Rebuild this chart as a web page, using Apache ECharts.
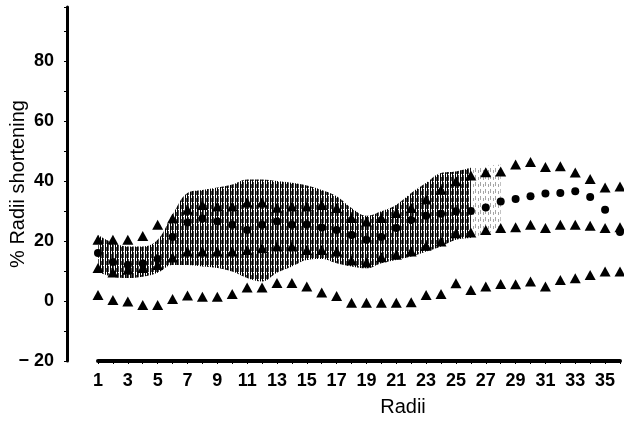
<!DOCTYPE html>
<html>
<head>
<meta charset="utf-8">
<script src="https://cdn.jsdelivr.net/npm/echarts@6/dist/echarts.min.js"></script>
<style>
  html, body { margin: 0; padding: 0; background: #fff; }
  #chart { width: 624px; height: 421px; }
</style>
</head>
<body>
<div id="chart"></div>
<script>
// Radius index along the x axis
const radii = Array.from({ length: 36 }, (_, i) => String(i + 1));
const yTicks = [-20, 0, 20, 40, 60, 80];

// Upper triangles
const upperTri = [20.4, 20.4, 20.4, 21.7, 25.4, 27.5, 30.4, 32, 31.5, 31.5, 32.8, 32.8, 31.1, 31.5, 31.5, 32,
  31, 27.7, 26.5, 27.7, 29.3, 31, 33.8, 37.1, 39.9, 41.8, 42.9, 43.2, 45.5, 46.3, 44.7, 44.9, 42.8, 40.7, 37.8, 38.2];
// Middle dots
const midDot = [16, 13, 12, 12.5, 14, 21.3, 26.2, 27.5, 26.5, 25.4, 23.7, 25.4, 26.5, 25.4, 25.5, 24.5,
  23.7, 22, 20.4, 21.3, 24.3, 27, 28.4, 29.1, 29.9, 30, 31.2, 33.2, 34, 34.9, 35.8, 36, 36.6, 34.7, 30.4, 23];
// Lower triangles
const lowerTri = [11, 9.5, 10.4, 11, 12, 14.5, 16.5, 16.5, 16.5, 16.5, 17, 17.6, 18.2, 18.2, 17, 17,
  16.5, 13.5, 12.8, 14.6, 15.4, 16.5, 18.4, 19.8, 22.6, 22.8, 23.7, 24.3, 24.6, 25.4, 24.3, 25.4, 25.4, 25.1, 24.3, 24.6];
// Bottom triangles
const bottomTri = [2, 0.3, -0.2, -1.3, -1.3, 0.7, 1.8, 1.4, 1.4, 2.3, 4.5, 4.5, 6, 6, 4.8, 2.8,
  1.7, -0.6, -0.6, -0.6, -0.6, -0.4, 2, 2.3, 5.9, 3.7, 4.8, 5.7, 5.6, 6.5, 4.8, 7, 7.6, 8.7, 9.8, 9.8];
// Hatched range (upper and lower edges), dense part
const rangeHigh = [22, 19.4, 18.2, 18.2, 20.4, 28.8, 36, 37, 37.8, 38.8, 40.5, 40.5, 40, 39.4, 38.5, 37,
  34.9, 31, 28.4, 29.9, 32.1, 36, 39.4, 42.7, 43.2, 44.4];
const rangeLow = [9.7, 8.1, 7.7, 8.1, 9.4, 12, 12, 11.5, 11, 9.8, 7.7, 6.5, 9.4, 11.5, 13.7, 14,
  12.6, 11.5, 10.9, 12.6, 13.7, 14.8, 16.5, 18.2, 20.4, 21];
// Sparse tail of the hatched range (radii 24-28)
const tailHigh = ['-', '-', '-', '-', '-', '-', '-', '-', '-', '-', '-', '-', '-', '-', '-', '-',
  '-', '-', '-', '-', '-', '-', '-', 42.7, 43.2, 44.4, 45, 45.5];
const tailLow = ['-', '-', '-', '-', '-', '-', '-', '-', '-', '-', '-', '-', '-', '-', '-', '-',
  '-', '-', '-', '-', '-', '-', '-', 18.2, 20.4, 21, 22.5, 23.5];

// Vertical line hatching used to fill the range
function hatchPattern(dense) {
  const c = document.createElement('canvas');
  c.width = 5; c.height = 7;
  const g = c.getContext('2d');
  if (dense) {
    g.fillStyle = '#000';
    g.fillRect(0, 0, 1, 7);
    g.fillRect(2, 0, 1, 7);
    g.fillStyle = 'rgba(0,0,0,0.7)';
    g.fillRect(3, 0, 1, 6);
    g.fillRect(1, 2, 1, 4);
  } else {
    g.fillStyle = 'rgba(0,0,0,0.35)';
    g.fillRect(0, 0, 1, 4);
    g.fillRect(3, 2, 1, 3);
  }
  return c;
}

const font = '"Liberation Sans", Arial, Helvetica, sans-serif';
const chart = echarts.init(document.getElementById('chart'), null, { renderer: 'canvas' });

const triSize = [11, 10];
const black = { color: '#000', opacity: 1 };
function diff(hi, lo) {
  return hi.map((h, i) => (h === '-' ? '-' : +(h - lo[i]).toFixed(2)));
}

chart.setOption({
  animation: false,
  backgroundColor: '#fff',
  grid: { left: 98, right: 4, top: 7, bottom: 60, containLabel: false, outerBoundsMode: 'none' },
  xAxis: {
    type: 'category',
    data: radii,
    boundaryGap: false,
    name: 'Radii',
    nameLocation: 'middle',
    nameGap: 36,
    nameMoveOverlap: false,
    nameTextStyle: { fontFamily: font, fontSize: 20, color: '#000', padding: [0, 0, 0, 88] },
    axisLine: { onZero: false, lineStyle: { color: '#000', width: 4 } },
    axisTick: { show: true, interval: 0, length: 3, lineStyle: { color: '#000', width: 1 } },
    axisLabel: { interval: 1, margin: 11, fontFamily: font, fontSize: 18, fontWeight: 'bold', color: '#000' },
    splitLine: { show: false }
  },
  yAxis: {
    type: 'value',
    min: yTicks[0],
    max: 98,
    interval: 20,
    offset: 31,
    name: '% Radii shortening',
    nameLocation: 'middle',
    nameGap: 39,
    nameRotate: 90,
    nameMoveOverlap: false,
    nameTextStyle: { fontFamily: font, fontSize: 20, color: '#000' },
    axisLine: { show: true, lineStyle: { color: '#000', width: 3 } },
    axisTick: { show: true, length: 3, lineStyle: { color: '#000', width: 1 } },
    minorTick: { show: true, splitNumber: 2, length: 3, lineStyle: { color: '#000', width: 1 } },
    axisLabel: {
      margin: 13, fontFamily: font, fontSize: 18, fontWeight: 'bold', color: '#000',
      showMaxLabel: false,
      formatter: v => (v < 0 ? '\u2212 ' + Math.abs(v) : String(v))
    },
    splitLine: { show: false }
  },
  series: [
    {
      type: 'line', stack: 'tail', data: tailLow, smooth: 0.4,
      symbol: 'none', lineStyle: { opacity: 0 }, silent: true
    },
    {
      type: 'line', stack: 'tail', data: diff(tailHigh, tailLow), smooth: 0.4,
      symbol: 'none', lineStyle: { opacity: 0 }, silent: true,
      areaStyle: { color: { image: hatchPattern(false), repeat: 'repeat' }, opacity: 1 }
    },
    {
      type: 'line', stack: 'range', data: rangeLow, smooth: 0.4,
      symbol: 'none', lineStyle: { opacity: 0 }, silent: true
    },
    {
      type: 'line', stack: 'range', data: diff(rangeHigh, rangeLow), smooth: 0.4,
      symbol: 'none', lineStyle: { opacity: 0 }, silent: true,
      areaStyle: { color: { image: hatchPattern(true), repeat: 'repeat' }, opacity: 1 }
    },
    { type: 'scatter', data: upperTri, symbol: 'triangle', symbolSize: triSize, itemStyle: black },
    { type: 'scatter', data: midDot, symbol: 'circle', symbolSize: 8, itemStyle: black },
    { type: 'scatter', data: lowerTri, symbol: 'triangle', symbolSize: triSize, itemStyle: black },
    { type: 'scatter', data: bottomTri, symbol: 'triangle', symbolSize: triSize, itemStyle: black }
  ]
});
</script>
</body>
</html>
